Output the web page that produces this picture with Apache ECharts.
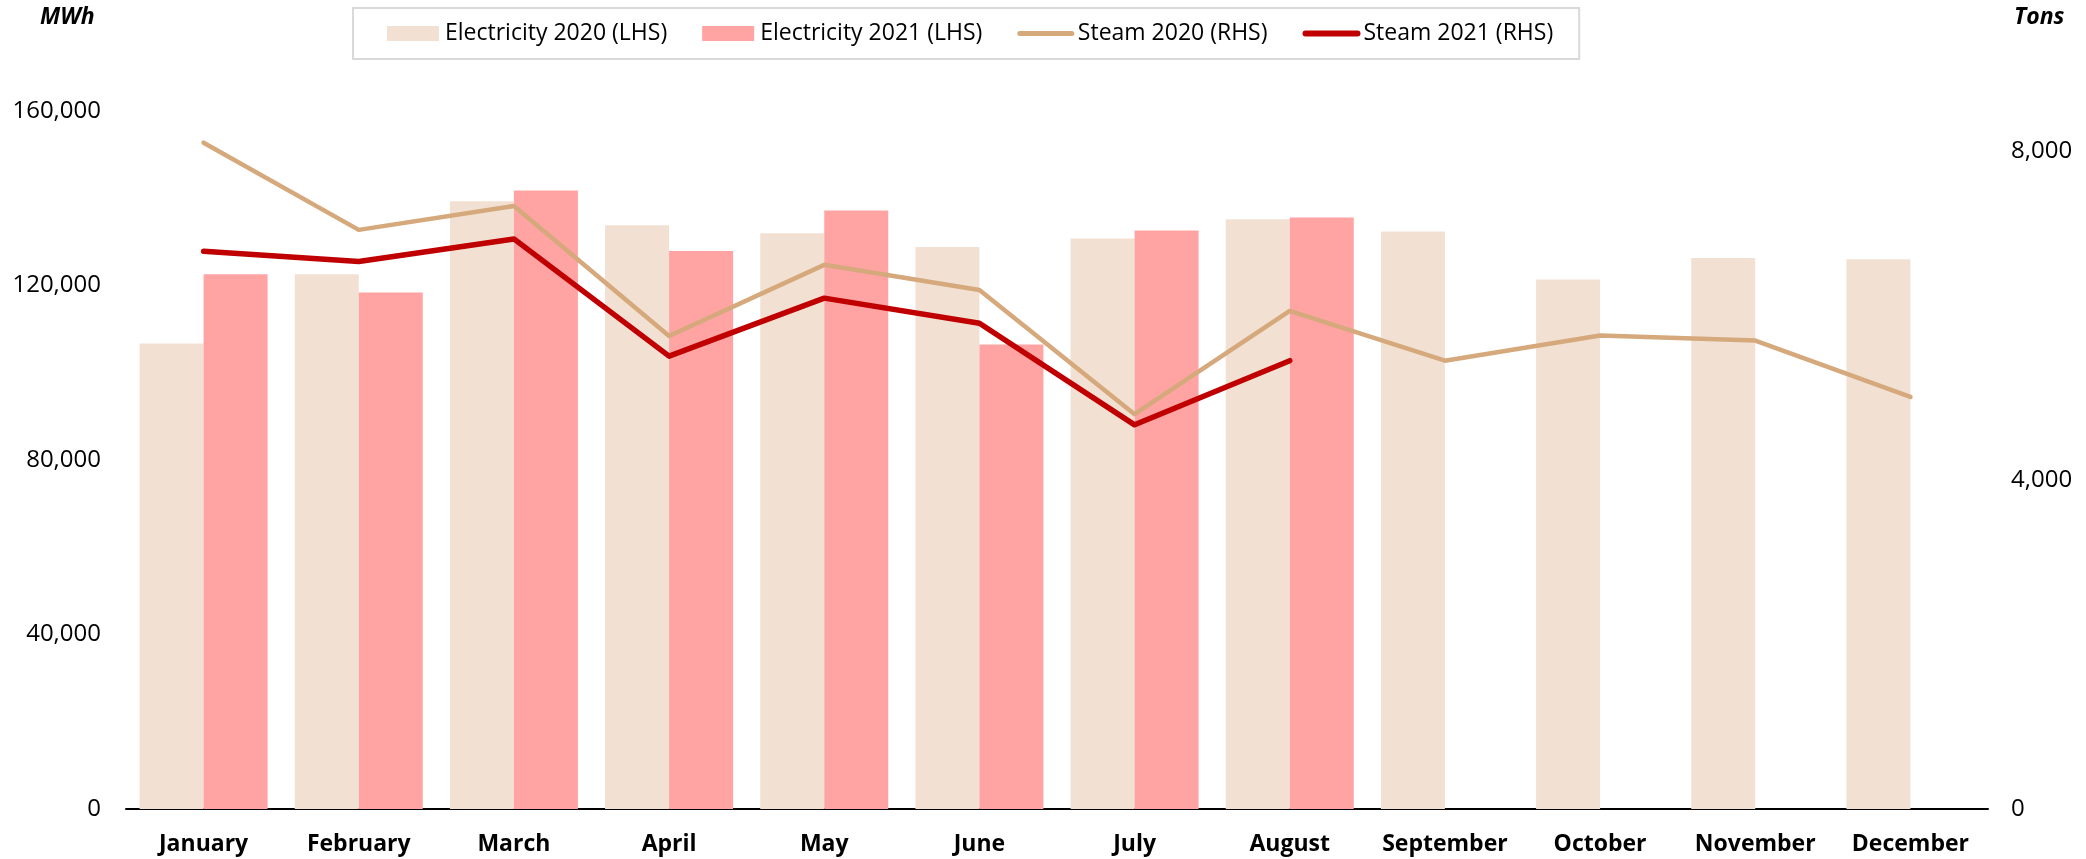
<!DOCTYPE html>
<html>
<head>
<meta charset="utf-8">
<script src="https://cdn.jsdelivr.net/npm/echarts@6/dist/echarts.min.js"></script>
<style>
html,body{margin:0;padding:0;background:#fff;}
#chart{width:2086px;height:859px;}
</style>
</head>
<body>
<div id="chart"></div>
<script>
var months = ['January','February','March','April','May','June','July','August','September','October','November','December'];
var electricity2020 = [106700, 122600, 139300, 133800, 132000, 128800, 130800, 135200, 132400, 121400, 126300, 126000];
var electricity2021 = [122600, 118400, 141800, 127900, 137200, 106500, 132600, 135600, null, null, null, null];
var steam2020 = [8100, 7040, 7330, 5750, 6615, 6310, 4800, 6055, 5450, 5755, 5695, 5010];
var steam2021 = [6780, 6655, 6930, 5505, 6210, 5905, 4670, 5450, null, null, null, null];
var seriesNames = ['Electricity 2020 (LHS)', 'Electricity 2021 (LHS)', 'Steam 2020 (RHS)', 'Steam 2021 (RHS)'];

var FONT = 'Open Sans';
var fmt = function (v) { return Number(v).toLocaleString('en-US'); };

var chart = echarts.init(document.getElementById('chart'), null, {renderer: 'canvas'});
chart.setOption({
  animation: false,
  backgroundColor: '#ffffff',
  textStyle: {fontFamily: FONT, color: '#000'},
  title: [
    {text: 'MWh', left: 40, top: 6, padding: 0,
     textStyle: {fontFamily: FONT, fontSize: 23, fontWeight: 'bold', fontStyle: 'italic', color: '#000'}},
    {text: 'Tons', left: 2014, top: 6, padding: 0,
     textStyle: {fontFamily: FONT, fontSize: 23, fontWeight: 'bold', fontStyle: 'italic', color: '#000'}}
  ],
  legend: {
    left: 353, top: 8,
    padding: [14, 26, 14, 34],
    borderColor: '#d9d9d9', borderWidth: 2,
    itemWidth: 52, itemHeight: 15, itemGap: 35,
    textStyle: {fontFamily: FONT, fontSize: 23, color: '#000', lineHeight: 21, padding: [0, 0, 0, 1]},
    data: [
      {name: seriesNames[0], icon: 'rect'},
      {name: seriesNames[1], icon: 'rect'},
      {name: seriesNames[2], itemStyle: {opacity: 0}, lineStyle: {width: 5, cap: 'round'}},
      {name: seriesNames[3], itemStyle: {opacity: 0}, lineStyle: {width: 6, cap: 'round'}}
    ]
  },
  grid: {left: 126, right: 98, top: 111, bottom: 50, containLabel: false},
  xAxis: {
    type: 'category',
    data: months,
    axisLine: {show: true, lineStyle: {color: '#000', width: 2}},
    axisTick: {show: false},
    axisLabel: {fontFamily: FONT, fontSize: 23, fontWeight: 'bold', color: '#000', margin: 24, interval: 0},
    splitLine: {show: false}
  },
  yAxis: [
    {
      type: 'value', min: 0, max: 160000, interval: 40000,
      axisLine: {show: false}, axisTick: {show: false}, splitLine: {show: false},
      axisLabel: {fontFamily: FONT, fontSize: 24, color: '#000', margin: 25, formatter: fmt}
    },
    {
      type: 'value', min: 0, max: 8485, interval: 4000,
      axisLine: {show: false}, axisTick: {show: false}, splitLine: {show: false},
      axisLabel: {fontFamily: FONT, fontSize: 24, color: '#000', margin: 23, formatter: fmt, showMaxLabel: false}
    }
  ],
  series: [
    {name: seriesNames[0], type: 'bar', yAxisIndex: 0, data: electricity2020,
     barGap: '0%', barCategoryGap: '17.5%', itemStyle: {color: '#f2e1d3'}},
    {name: seriesNames[1], type: 'bar', yAxisIndex: 0, data: electricity2021,
     barGap: '0%', barCategoryGap: '17.5%', itemStyle: {color: '#ffa3a3'}},
    {name: seriesNames[2], type: 'line', yAxisIndex: 1, data: steam2020, symbol: 'none', z: 3,
     lineStyle: {color: '#d5a97b', width: 4.5, cap: 'round', join: 'round'}, itemStyle: {color: '#d5a97b'}},
    {name: seriesNames[3], type: 'line', yAxisIndex: 1, data: steam2021, symbol: 'none', z: 4,
     lineStyle: {color: '#c00000', width: 5.5, cap: 'round', join: 'round'}, itemStyle: {color: '#c00000'}}
  ]
});
</script>
</body>
</html>
